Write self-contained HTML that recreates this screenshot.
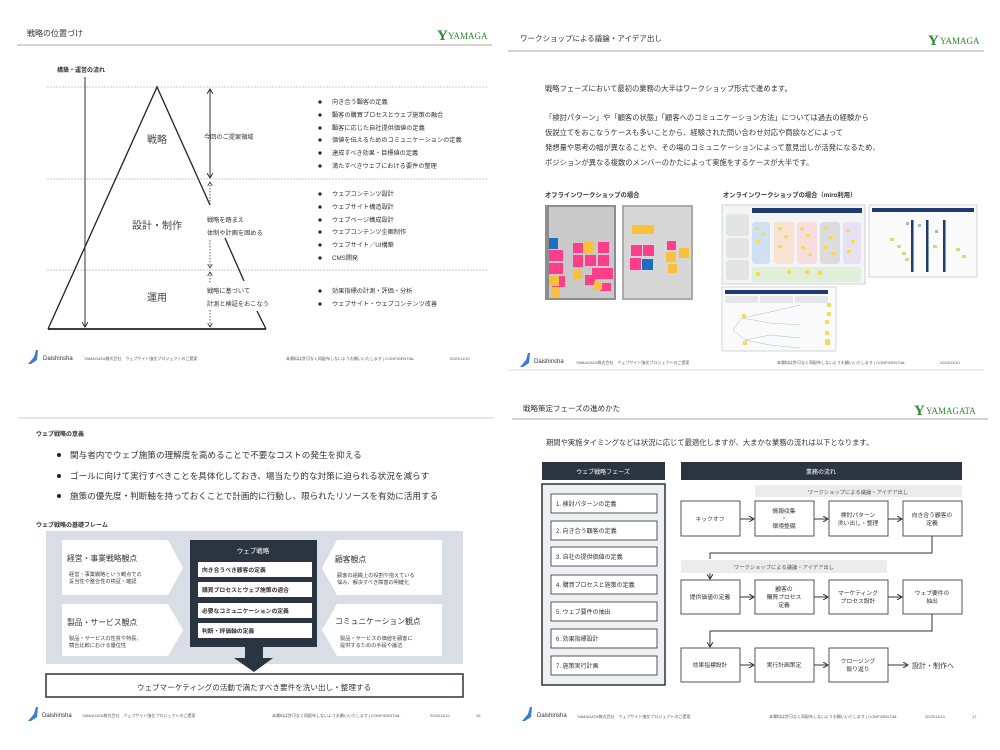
<!DOCTYPE html>
<html><head><meta charset="utf-8"><style>
html,body{margin:0;padding:0;background:#fff;}
svg{display:block;font-family:"Liberation Sans","Noto Sans CJK JP",sans-serif;}
</style></head><body>
<svg width="1000" height="750" viewBox="0 0 1000 750" xmlns="http://www.w3.org/2000/svg">
<defs>
<marker id="ah" markerWidth="6" markerHeight="6" refX="5" refY="3" orient="auto"><path d="M0,0 L5,3 L0,6" fill="none" stroke="#333" stroke-width="1"/></marker>
<marker id="ahs" markerWidth="6" markerHeight="6" refX="5" refY="3" orient="auto-start-reverse"><path d="M0,0 L5,3 L0,6" fill="none" stroke="#333" stroke-width="1"/></marker>
</defs>
<rect width="1000" height="750" fill="#fff"/>

<!-- ============ SLIDE 1 ============ -->
<text x="27" y="36" font-size="8" fill="#333">戦略の位置づけ</text>
<text x="437" y="40" font-size="15" fill="#2e8b2e" font-family="Liberation Serif,serif" font-weight="bold">Y</text>
<text x="448" y="39" font-size="9" fill="#2e8b2e" font-family="Liberation Serif,serif">YAMAGA</text>
<line x1="17" y1="45" x2="492" y2="45" stroke="#aaa" stroke-width="1"/>
<text x="57" y="72" font-size="6" font-weight="bold" fill="#333">構築・運営の流れ</text>
<g stroke="#bbb" stroke-width="0.8" stroke-dasharray="2,1">
<line x1="47" y1="87" x2="487" y2="87"/><line x1="47" y1="179" x2="487" y2="179"/><line x1="47" y1="270" x2="487" y2="270"/>
</g>
<polyline points="48,329 157,87 210,205" fill="none" stroke="#222" stroke-width="1.3"/>
<line x1="225" y1="238" x2="244" y2="281" stroke="#222" stroke-width="1.3"/>
<line x1="257" y1="311" x2="266" y2="329" stroke="#222" stroke-width="1.3"/>
<line x1="48" y1="329" x2="266" y2="329" stroke="#222" stroke-width="1.8"/>
<line x1="85" y1="77" x2="85" y2="327" stroke="#333" stroke-width="1" marker-end="url(#ah)"/>
<line x1="210" y1="89" x2="210" y2="178" stroke="#333" stroke-width="1" marker-start="url(#ahs)" marker-end="url(#ah)"/>
<line x1="210" y1="182" x2="210" y2="205" stroke="#333" stroke-width="0.8" stroke-dasharray="1.5,1.5" marker-start="url(#ahs)"/>
<line x1="210" y1="240" x2="210" y2="268" stroke="#333" stroke-width="0.8" stroke-dasharray="1.5,1.5" marker-end="url(#ah)"/>
<line x1="210" y1="272" x2="210" y2="284" stroke="#333" stroke-width="0.8" stroke-dasharray="1.5,1.5" marker-start="url(#ahs)"/>
<line x1="210" y1="310" x2="210" y2="327" stroke="#333" stroke-width="0.8" stroke-dasharray="1.5,1.5" marker-end="url(#ah)"/>
<g fill="#444" font-size="10" text-anchor="middle">
<text x="157" y="143">戦略</text><text x="157" y="229">設計・制作</text><text x="157" y="301">運用</text>
</g>
<g fill="#333" font-size="6.2">
<text x="204" y="139">今回のご提案領域</text>
<text x="207" y="222">戦略を踏まえ</text><text x="207" y="235">体制や計画を固める</text>
<text x="207" y="293">戦略に基づいて</text><text x="207" y="306">計測と検証をおこなう</text>
</g>
<g fill="#333" font-size="6.2">
<text x="332" y="104">向き合う顧客の定義</text>
<text x="332" y="117">顧客の購買プロセスとウェブ施策の融合</text>
<text x="332" y="130">顧客に応じた自社提供価値の定義</text>
<text x="332" y="142">価値を伝えるためのコミュニケーションの定義</text>
<text x="332" y="155">達成すべき効果・目標値の定義</text>
<text x="332" y="168">満たすべきウェブにおける要件の整理</text>
<text x="332" y="196">ウェブコンテンツ設計</text>
<text x="332" y="209">ウェブサイト構造設計</text>
<text x="332" y="222">ウェブページ構成設計</text>
<text x="332" y="234">ウェブコンテンツ企画制作</text>
<text x="332" y="247">ウェブサイト／UI構築</text>
<text x="332" y="260">CMS開発</text>
<text x="332" y="293">効果指標の計測・評価・分析</text>
<text x="332" y="306">ウェブサイト・ウェブコンテンツ改善</text>
</g>
<g fill="#222">
<circle cx="320" cy="102" r="1.6"/><circle cx="320" cy="115" r="1.6"/><circle cx="320" cy="128" r="1.6"/><circle cx="320" cy="140" r="1.6"/><circle cx="320" cy="153" r="1.6"/><circle cx="320" cy="166" r="1.6"/>
<circle cx="320" cy="194" r="1.6"/><circle cx="320" cy="207" r="1.6"/><circle cx="320" cy="220" r="1.6"/><circle cx="320" cy="232" r="1.6"/><circle cx="320" cy="245" r="1.6"/><circle cx="320" cy="258" r="1.6"/>
<circle cx="320" cy="291" r="1.6"/><circle cx="320" cy="304" r="1.6"/>
</g>
<!-- footer 1 -->
<path d="M28,364 L34,357 L36,350 L38,350 L37,360 L31,364 Z" fill="#3a7bd5"/>
<text x="43" y="360" font-size="6" fill="#333">Daishinsha</text>
<text x="84" y="360" font-size="4" fill="#555">YAMAGATA株式会社　ウェブサイト強化プロジェクトのご提案</text>
<text x="286" y="360" font-size="4" fill="#555">本資料は許可なく再配布しないようお願いいたします | CONFIDENTIAL</text>
<text x="450" y="360" font-size="4" fill="#555">2023/11/10</text>

<!-- ============ SLIDE 2 ============ -->
<text x="520" y="41" font-size="7.5" fill="#333">ワークショップによる議論・アイデア出し</text>
<text x="928" y="45" font-size="15" fill="#2e8b2e" font-family="Liberation Serif,serif" font-weight="bold">Y</text>
<text x="940" y="44" font-size="9" fill="#2e8b2e" font-family="Liberation Serif,serif">YAMAGA</text>
<line x1="508" y1="51" x2="984" y2="51" stroke="#aaa" stroke-width="1"/>
<g fill="#333" font-size="7.3">
<text x="545" y="91">戦略フェーズにおいて最初の業務の大半はワークショップ形式で進めます。</text>
<text x="545" y="120">「検討パターン」や「顧客の状態」「顧客へのコミュニケーション方法」については過去の経験から</text>
<text x="545" y="135">仮説立てをおこなうケースも多いことから、経験された問い合わせ対応や商談などによって</text>
<text x="545" y="150">発想量や思考の幅が異なることや、その場のコミュニケーションによって意見出しが活発になるため、</text>
<text x="545" y="165">ポジションが異なる複数のメンバーのかたによって実施をするケースが大半です。</text>
</g>
<text x="545" y="197" font-size="6.3" font-weight="bold" fill="#333">オフラインワークショップの場合</text>
<text x="723" y="197" font-size="6.3" font-weight="bold" fill="#333">オンラインワークショップの場合（miro利用）</text>
<!-- photos -->
<rect x="545" y="205" width="71" height="95" fill="#8d8d8d"/>
<rect x="549" y="207" width="65" height="91" fill="#c9c9c9"/>
<g fill="#ff3d8b">
<rect x="549" y="250" width="14" height="11"/><rect x="549" y="263" width="14" height="11"/><rect x="552" y="276" width="13" height="11"/>
<rect x="573" y="243" width="10" height="10"/><rect x="573" y="255" width="10" height="12"/><rect x="585" y="255" width="11" height="11"/><rect x="598" y="242" width="11" height="11"/><rect x="598" y="255" width="11" height="11"/><rect x="592" y="268" width="11" height="11"/><rect x="603" y="268" width="10" height="11"/><rect x="585" y="275" width="10" height="10"/><rect x="600" y="283" width="11" height="8"/>
</g>
<g fill="#f7c23a"><rect x="584" y="241" width="9" height="13"/><rect x="549" y="276" width="10" height="10"/><rect x="551" y="288" width="9" height="9"/><rect x="573" y="270" width="9" height="9"/><rect x="594" y="282" width="8" height="8"/></g>
<rect x="549" y="238" width="9" height="11" fill="#1a6fc0"/>
<rect x="622" y="205" width="71" height="95" fill="#aaa"/>
<rect x="624" y="207" width="67" height="91" fill="#d6d6d6"/>
<rect x="632" y="225" width="22" height="9" fill="#f7c23a"/>
<g fill="#ff3d8b"><rect x="631" y="245" width="11" height="11"/><rect x="643" y="245" width="11" height="11"/><rect x="630" y="258" width="11" height="12"/><rect x="667" y="241" width="9" height="9"/></g>
<rect x="642" y="259" width="11" height="11" fill="#1a6fc0"/>
<g fill="#f7c23a"><rect x="666" y="252" width="10" height="10"/><rect x="679" y="248" width="10" height="10"/><rect x="668" y="264" width="9" height="9"/></g>
<!-- miro 1 -->
<rect x="722" y="205" width="143" height="79" fill="#f3f4f6" stroke="#bbb" stroke-width="0.6"/>
<rect x="752" y="208" width="110" height="5" fill="#1e3a6e"/>
<rect x="726" y="214" width="23" height="22" rx="3" fill="#e4e4e4"/><rect x="726" y="238" width="23" height="20" rx="3" fill="#e4e4e4"/><rect x="726" y="260" width="23" height="20" rx="3" fill="#e4e4e4"/>
<rect x="752" y="222" width="18" height="42" rx="3" fill="#cfe0f2"/><rect x="774" y="222" width="20" height="42" rx="3" fill="#f8e2d0"/><rect x="797" y="222" width="20" height="42" rx="3" fill="#f6dede"/><rect x="820" y="222" width="20" height="42" rx="3" fill="#dcdcdc"/><rect x="843" y="222" width="18" height="42" rx="3" fill="#e8e0f3"/>
<rect x="752" y="267" width="109" height="15" rx="3" fill="#e2efd8"/>
<g fill="#f5dc55">
<rect x="755" y="227" width="4" height="3"/><rect x="761" y="233" width="4" height="3"/><rect x="756" y="240" width="4" height="3"/><rect x="778" y="227" width="4" height="3"/><rect x="784" y="235" width="4" height="3"/><rect x="778" y="245" width="4" height="3"/><rect x="800" y="227" width="4" height="3"/><rect x="806" y="234" width="4" height="3"/><rect x="801" y="246" width="4" height="3"/><rect x="808" y="253" width="4" height="3"/><rect x="823" y="227" width="4" height="3"/><rect x="829" y="236" width="4" height="3"/><rect x="824" y="246" width="4" height="3"/><rect x="831" y="252" width="4" height="3"/><rect x="846" y="229" width="4" height="3"/><rect x="851" y="240" width="4" height="3"/><rect x="847" y="250" width="4" height="3"/><rect x="756" y="272" width="4" height="4"/><rect x="787" y="270" width="4" height="4"/><rect x="805" y="270" width="4" height="4"/><rect x="818" y="271" width="4" height="4"/>
</g>
<!-- miro 2 -->
<rect x="869" y="205" width="108" height="72" fill="#fafafa" stroke="#bbb" stroke-width="0.6"/>
<rect x="872" y="208" width="102" height="4" fill="#1e3a6e"/>
<rect x="911" y="220" width="2.5" height="52" fill="#1e3a6e"/><rect x="926" y="220" width="2.5" height="52" fill="#1e3a6e"/><rect x="943" y="220" width="2.5" height="52" fill="#1e3a6e"/>
<g fill="#cddc8a"><rect x="890" y="238" width="4" height="3"/><rect x="897" y="245" width="4" height="3"/><rect x="902" y="252" width="4" height="3"/><rect x="905" y="258" width="4" height="3"/><rect x="933" y="245" width="4" height="3"/><rect x="956" y="248" width="4" height="3"/><rect x="962" y="255" width="4" height="3"/></g>
<g fill="#9fb8dd"><rect x="906" y="222" width="3" height="3"/><rect x="918" y="224" width="3" height="3"/><rect x="935" y="230" width="3" height="3"/></g>
<!-- miro 3 -->
<rect x="722" y="287" width="114" height="64" fill="#fafafa" stroke="#bbb" stroke-width="0.6"/>
<rect x="725" y="290" width="103" height="4" fill="#1e3a6e"/>
<rect x="725" y="296" width="33" height="7" fill="#e5e6ea"/><rect x="760" y="296" width="33" height="7" fill="#e5e6ea"/><rect x="795" y="296" width="33" height="7" fill="#e5e6ea"/>
<g fill="none" stroke="#9ab" stroke-width="0.4"><path d="M733,330 L742,318 L770,312 L800,305"/><path d="M742,318 L770,323 L800,325"/><path d="M733,330 L745,340 L770,335 L800,338"/><path d="M745,340 L770,345 L800,348"/></g>
<g fill="#f5dc55"><rect x="742" y="314" width="4" height="4"/><rect x="827" y="303" width="4" height="4"/><rect x="827" y="312" width="4" height="4"/><rect x="825" y="320" width="4" height="4"/><rect x="825" y="331" width="4" height="4"/><rect x="825" y="339" width="5" height="6"/><rect x="743" y="341" width="4" height="4"/></g>
<!-- footer 2 -->
<path d="M520,367 L526,360 L528,353 L530,353 L529,363 L523,367 Z" fill="#3a7bd5"/>
<text x="534" y="363" font-size="6" fill="#333">Daishinsha</text>
<text x="576" y="364" font-size="4" fill="#555">YAMAGATA株式会社　ウェブサイト強化プロジェクトのご提案</text>
<text x="777" y="364" font-size="4" fill="#555">本資料は許可なく再配布しないようお願いいたします | CONFIDENTIAL</text>
<text x="940" y="364" font-size="4" fill="#555">2023/11/10</text>
<line x1="508" y1="370" x2="984" y2="370" stroke="#ccc" stroke-width="0.8"/>

<!-- ============ SLIDE 3 ============ -->
<line x1="18" y1="418" x2="494" y2="418" stroke="#ccc" stroke-width="1"/>
<text x="36" y="436" font-size="6" font-weight="bold" fill="#333">ウェブ戦略の意義</text>
<g fill="#222"><circle cx="59" cy="455" r="2"/><circle cx="59" cy="476" r="2"/><circle cx="59" cy="496" r="2"/></g>
<g fill="#333" font-size="8.6">
<text x="70" y="458">関与者内でウェブ施策の理解度を高めることで不要なコストの発生を抑える</text>
<text x="70" y="479">ゴールに向けて実行すべきことを具体化しておき、場当たり的な対策に迫られる状況を減らす</text>
<text x="70" y="499">施策の優先度・判断軸を持っておくことで計画的に行動し、限られたリソースを有効に活用する</text>
</g>
<text x="36" y="527" font-size="6" font-weight="bold" fill="#333">ウェブ戦略の基礎フレーム</text>
<rect x="46" y="531" width="417" height="133" fill="#d9dee6"/>
<polygon points="62,540 168,540 183,568 168,595 62,595" fill="#fff"/>
<polygon points="62,604 168,604 183,630 168,656 62,656" fill="#fff"/>
<polygon points="337,540 442,540 442,595 337,595 322,568" fill="#fff"/>
<polygon points="337,604 442,604 442,656 337,656 322,630" fill="#fff"/>
<g fill="#333" font-size="7.8">
<text x="67" y="561">経営・事業戦略観点</text><text x="67" y="625">製品・サービス観点</text>
<text x="335" y="562">顧客観点</text><text x="335" y="624">コミュニケーション観点</text>
</g>
<g fill="#444" font-size="5.2">
<text x="69" y="576">経営・事業戦略という観点での</text><text x="69" y="583">妥当性や整合性の検証・確認</text>
<text x="69" y="640">製品・サービスの性質や特長、</text><text x="69" y="647">競合比較における優位性</text>
<text x="337" y="577">顧客の組織上の役割や抱えている</text><text x="337" y="584">悩み、解決すべき障害の明確化</text>
<text x="340" y="640">製品・サービスの価値を顧客に</text><text x="340" y="647">提供するための手段や論法</text>
</g>
<rect x="190" y="540" width="127" height="107" fill="#2b3441"/>
<text x="253" y="553" font-size="6.5" fill="#fff" text-anchor="middle">ウェブ戦略</text>
<g fill="#fff"><rect x="198" y="562" width="114" height="15"/><rect x="198" y="582" width="114" height="15"/><rect x="198" y="603" width="114" height="15"/><rect x="198" y="623" width="114" height="15"/></g>
<g fill="#333" font-size="5.8" font-weight="bold">
<text x="202" y="572">向き合うべき顧客の定義</text><text x="202" y="592">購買プロセスとウェブ施策の適合</text><text x="202" y="613">必要なコミュニケーションの定義</text><text x="202" y="633">判断・評価軸の定義</text>
</g>
<polygon points="245,647 263,647 263,658 273,658 254,672 234,658 245,658" fill="#2b3441"/>
<rect x="46" y="674" width="417" height="23" fill="#fff" stroke="#2b3441" stroke-width="1.5"/>
<text x="254" y="690" font-size="7.6" fill="#333" text-anchor="middle">ウェブマーケティングの活動で満たすべき要件を洗い出し・整理する</text>
<!-- footer 3 -->
<path d="M28,721 L34,714 L36,707 L38,707 L37,717 L31,721 Z" fill="#3a7bd5"/>
<text x="42" y="717" font-size="6" fill="#333">Daishinsha</text>
<text x="82" y="717" font-size="4" fill="#555">YAMAGATA株式会社　ウェブサイト強化プロジェクトのご提案</text>
<text x="272" y="717" font-size="4" fill="#555">本資料は許可なく再配布しないようお願いいたします | CONFIDENTIAL</text>
<text x="430" y="717" font-size="4" fill="#555">2023/11/10</text>
<text x="476" y="717" font-size="4" fill="#555">15</text>

<!-- ============ SLIDE 4 ============ -->
<text x="523" y="411" font-size="7.5" fill="#333">戦略策定フェーズの進めかた</text>
<text x="914" y="415" font-size="15" fill="#2e8b2e" font-family="Liberation Serif,serif" font-weight="bold">Y</text>
<text x="926" y="414" font-size="9" fill="#2e8b2e" font-family="Liberation Serif,serif">YAMAGATA</text>
<line x1="512" y1="419" x2="988" y2="419" stroke="#aaa" stroke-width="1"/>
<text x="546" y="445" font-size="7.3" fill="#333">期間や実施タイミングなどは状況に応じて最適化しますが、大まかな業務の流れは以下となります。</text>
<rect x="542" y="462" width="123" height="18" fill="#2b3441"/>
<text x="603" y="474" font-size="6" fill="#fff" text-anchor="middle">ウェブ戦略フェーズ</text>
<rect x="542" y="484" width="123" height="201" fill="#eef0f3" stroke="#2b3441" stroke-width="1.5"/>
<g fill="#fff" stroke="#444" stroke-width="0.9">
<rect x="551" y="494" width="106" height="19"/><rect x="551" y="521" width="106" height="19"/><rect x="551" y="547" width="106" height="19"/><rect x="551" y="575" width="106" height="19"/><rect x="551" y="602" width="106" height="19"/><rect x="551" y="629" width="106" height="19"/><rect x="551" y="656" width="106" height="19"/>
</g>
<g fill="#333" font-size="6">
<text x="556" y="506">1. 検討パターンの定義</text><text x="556" y="533">2. 向き合う顧客の定義</text><text x="556" y="559">3. 自社の提供価値の定義</text><text x="556" y="587">4. 購買プロセスと施策の定義</text><text x="556" y="614">5. ウェブ要件の抽出</text><text x="556" y="641">6. 効果指標設計</text><text x="556" y="668">7. 施策実行計画</text>
</g>
<rect x="681" y="462" width="281" height="18" fill="#2b3441"/>
<text x="821" y="474" font-size="6" fill="#fff" text-anchor="middle">業務の流れ</text>
<rect x="755" y="485" width="207" height="12" fill="#ececec"/>
<text x="858" y="494" font-size="5.3" fill="#555" text-anchor="middle">ワークショップによる議論・アイデア出し</text>
<rect x="681" y="560" width="206" height="13" fill="#ececec"/>
<text x="784" y="569" font-size="5.3" fill="#555" text-anchor="middle">ワークショップによる議論・アイデア出し</text>
<g fill="#fff" stroke="#444" stroke-width="0.9">
<rect x="681" y="501" width="59" height="35"/><rect x="755" y="501" width="59" height="35"/><rect x="829" y="501" width="59" height="35"/><rect x="903" y="501" width="59" height="35"/>
<rect x="681" y="580" width="59" height="34"/><rect x="755" y="580" width="59" height="34"/><rect x="829" y="580" width="59" height="34"/><rect x="903" y="580" width="59" height="34"/>
<rect x="681" y="648" width="59" height="34"/><rect x="755" y="648" width="59" height="34"/><rect x="829" y="648" width="59" height="34"/>
</g>
<g stroke="#333" stroke-width="1" fill="none">
<line x1="740" y1="519" x2="754" y2="519" marker-end="url(#ah)"/><line x1="814" y1="519" x2="828" y2="519" marker-end="url(#ah)"/><line x1="888" y1="519" x2="902" y2="519" marker-end="url(#ah)"/>
<line x1="740" y1="597" x2="754" y2="597" marker-end="url(#ah)"/><line x1="814" y1="597" x2="828" y2="597" marker-end="url(#ah)"/><line x1="888" y1="597" x2="902" y2="597" marker-end="url(#ah)"/>
<line x1="740" y1="665" x2="754" y2="665" marker-end="url(#ah)"/><line x1="814" y1="665" x2="828" y2="665" marker-end="url(#ah)"/><line x1="888" y1="665" x2="908" y2="665" marker-end="url(#ah)"/>
<polyline points="932,536 932,553 710,553 710,559"/>
<line x1="710" y1="573" x2="710" y2="579" marker-end="url(#ah)"/>
<polyline points="932,614 932,631 710,631 710,647" marker-end="url(#ah)"/>
</g>
<g fill="#333" font-size="5.8" text-anchor="middle">
<text x="710" y="521">キックオフ</text>
<text x="784" y="513">情報収集</text><text x="784" y="520">・</text><text x="784" y="528">環境整備</text>
<text x="858" y="517">検討パターン</text><text x="858" y="525">洗い出し・整理</text>
<text x="932" y="517">向き合う顧客の</text><text x="932" y="525">定義</text>
<text x="710" y="599">提供価値の定義</text>
<text x="784" y="591">顧客の</text><text x="784" y="599">購買プロセス</text><text x="784" y="607">定義</text>
<text x="858" y="595">マーケティング</text><text x="858" y="603">プロセス設計</text>
<text x="932" y="595">ウェブ要件の</text><text x="932" y="603">抽出</text>
<text x="710" y="667">効果指標設計</text><text x="784" y="667">実行計画策定</text>
<text x="858" y="663">クロージング</text><text x="858" y="671">振り返り</text>
</g>
<text x="912" y="668" font-size="7" fill="#333">設計・制作へ</text>
<!-- footer 4 -->
<path d="M522,721 L528,714 L530,707 L532,707 L531,717 L525,721 Z" fill="#3a7bd5"/>
<text x="537" y="717" font-size="6" fill="#333">Daishinsha</text>
<text x="577" y="718" font-size="4" fill="#555">YAMAGATA株式会社　ウェブサイト強化プロジェクトのご提案</text>
<text x="769" y="718" font-size="4" fill="#555">本資料は許可なく再配布しないようお願いいたします | CONFIDENTIAL</text>
<text x="925" y="718" font-size="4" fill="#555">2023/11/10</text>
<text x="972" y="718" font-size="4" fill="#555">17</text>
</svg>
</body></html>
